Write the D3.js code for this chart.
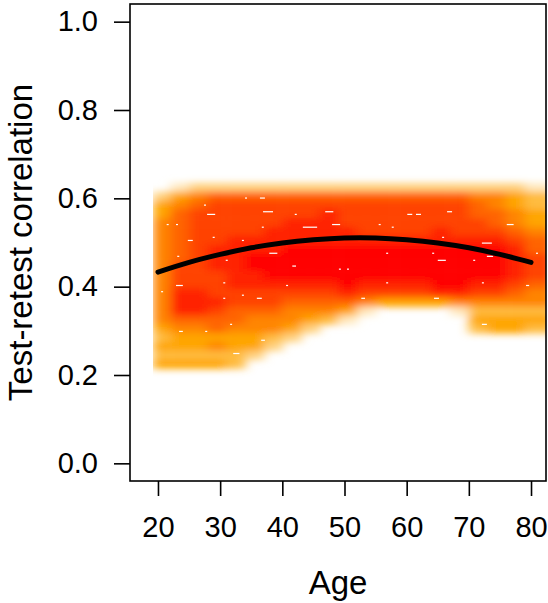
<!DOCTYPE html>
<html>
<head>
<meta charset="utf-8">
<script src="https://cdn.jsdelivr.net/npm/d3@7"></script>
<style>
  body { margin: 0; background: #fff; }
  svg { display: block; font-family: 'Liberation Sans', Arial, Helvetica, sans-serif; }
</style>
</head>
<body>
<div id="chart"></div>
<script>
// ===== TEST-RETEST CORRELATION BY AGE (smoothed density + quadratic fit) =====

// Age column edges of the density raster (years)
const ageEdges = [19.2, 22, 25, 28, 31, 34, 37, 40, 43, 46, 49, 52, 55, 58, 61, 64, 67, 70, 73, 76, 79, 83.5];

// Top edge of each density row (correlation), each row 0.02 tall
const rowTops = [0.635, 0.615, 0.595, 0.575, 0.555, 0.535, 0.515, 0.495, 0.475, 0.455,
                 0.435, 0.415, 0.395, 0.375, 0.355, 0.335, 0.315, 0.295, 0.275, 0.255, 0.235];
const rowHeight = 0.02;

// Density level per cell (0 = empty, 9 = densest)
const densityRows = [
  [0,1,2,2,2,2,2,2,2,2,2,2,2,2,2,2,2,2,2,2,1],
  [2,4,5,6,6,6,6,6,6,6,6,6,6,6,6,6,6,5,5,4,3],
  [4,5,6,7,7,7,7,7,7,7,7,7,7,7,7,7,7,6,5,4,3],
  [4,6,7,7,7,7,7,7,7,8,7,7,7,7,7,7,7,6,6,5,4],
  [5,6,7,7,7,7,7,8,8,8,7,7,7,7,7,7,7,7,6,5,4],
  [5,6,7,7,7,7,8,8,8,8,8,7,7,7,7,8,7,7,7,6,5],
  [5,6,7,7,8,8,8,8,8,8,8,8,8,8,8,8,8,8,8,7,6],
  [5,6,7,8,8,8,8,9,9,9,9,9,9,9,9,9,9,9,9,8,6],
  [5,6,7,8,8,9,9,9,9,9,9,9,9,9,9,9,9,9,9,8,7],
  [5,7,7,8,8,9,9,9,9,9,9,9,9,9,9,9,9,9,9,8,7],
  [5,7,7,7,8,8,9,9,9,9,9,9,9,9,9,9,9,9,9,8,7],
  [5,7,7,7,8,8,8,8,8,8,9,8,8,8,8,9,9,8,8,7,6],
  [5,8,8,7,7,7,7,7,7,7,8,7,7,7,7,8,8,7,7,6,5],
  [5,8,8,8,7,7,7,6,6,6,6,5,4,4,4,4,5,5,5,5,5],
  [5,8,8,7,6,6,6,5,5,5,4,1,0,0,0,0,1,3,3,3,3],
  [5,6,6,6,6,5,5,5,4,3,1,0,0,0,0,0,0,4,4,4,4],
  [4,5,5,6,5,5,5,4,2,0,0,0,0,0,0,0,0,3,4,4,3],
  [3,4,4,4,4,4,3,2,0,0,0,0,0,0,0,0,0,0,0,0,0],
  [4,4,4,5,4,4,2,0,0,0,0,0,0,0,0,0,0,0,0,0,0],
  [3,3,3,3,3,2,0,0,0,0,0,0,0,0,0,0,0,0,0,0,0],
  [4,4,4,4,3,0,0,0,0,0,0,0,0,0,0,0,0,0,0,0,0]
];

// Small white gaps left in the density image (age, correlation, length in years)
const speckAge  = [34.0, 36.4, 27.4, 36.9, 27.9, 42.0, 46.9, 60.1, 61.5, 66.5, 21.4, 22.9, 36.7, 43.3, 48.0,
                   55.5, 57.6, 76.1, 24.8, 28.8, 33.5, 65.7, 72.1, 23.1, 37.9, 56.7, 64.1, 72.9, 30.9, 65.0,
                   70.7, 41.6, 49.1, 50.4, 22.9, 30.5, 40.6, 56.7, 72.1, 79.2, 30.5, 35.9, 52.7, 64.4, 72.1,
                   31.6, 23.4, 36.6, 32.1, 27.6, 33.5, 80.8, 20.5];
const speckCorr = [0.602, 0.602, 0.586, 0.571, 0.565, 0.565, 0.571, 0.565, 0.565, 0.571, 0.542, 0.542, 0.536, 0.536, 0.542,
                   0.542, 0.536, 0.542, 0.506, 0.513, 0.506, 0.513, 0.500, 0.470, 0.477, 0.477, 0.477, 0.470, 0.461, 0.461,
                   0.461, 0.448, 0.441, 0.441, 0.404, 0.410, 0.404, 0.410, 0.410, 0.404, 0.375, 0.375, 0.375, 0.375, 0.316,
                   0.316, 0.300, 0.280, 0.250, 0.300, 0.382, 0.477, 0.390];
const speckLen  = [0.3, 0.8, 0.3, 1.6, 1.3, 0.3, 1.3, 0.8, 0.8, 0.8, 0.3, 0.3, 0.3, 2.3, 1.3,
                   0.3, 0.3, 1.1, 0.8, 0.3, 0.3, 0.3, 1.6, 0.3, 1.3, 0.3, 0.3, 1.0, 0.3, 1.3,
                   0.3, 0.6, 0.3, 0.3, 1.1, 0.3, 0.3, 0.3, 0.3, 0.5, 0.3, 0.8, 0.6, 0.8, 0.8,
                   0.3, 0.6, 0.6, 1.0, 0.3, 0.3, 0.3, 0.3];

// Fitted curve (quadratic in age)
const fitAges = [20, 25, 30, 35, 40, 45, 50, 55, 60, 65, 70, 75, 80];
const fitCorr = [0.433, 0.455, 0.473, 0.488, 0.499, 0.506, 0.510, 0.510, 0.506, 0.499, 0.488, 0.473, 0.455];

// Axis ticks
const xTicks = [20, 30, 40, 50, 60, 70, 80];
const yTicks = [0, 0.2, 0.4, 0.6, 0.8, 1.0];

const W = 548, H = 603;
const plot = { left: 130, right: 546, top: 4, bottom: 481 };

const svg = d3.select('#chart').append('svg')
  .attr('width', W)
  .attr('height', H);

const x = d3.scaleLinear().domain([15.5, 82.41]).range([plot.left, plot.right]);
const y = d3.scaleLinear().domain([-0.04, 1.04]).range([plot.bottom, plot.top]);

// white -> orange -> red ramp
const color = d3.scaleLinear()
  .domain([0, 4, 9])
  .range(['#ffffff', '#ffa500', '#ff0000']);

const defs = svg.append('defs');

defs.append('filter')
  .attr('id', 'smooth')
  .attr('filterUnits', 'userSpaceOnUse')
  .attr('x', 0).attr('y', 0).attr('width', W).attr('height', H)
  .append('feGaussianBlur')
  .attr('stdDeviation', '5.5 3.5');

// density starts sharply at the youngest age
defs.append('clipPath')
  .attr('id', 'density-clip')
  .append('rect')
  .attr('x', x(ageEdges[0]))
  .attr('y', plot.top)
  .attr('width', plot.right - x(ageEdges[0]))
  .attr('height', plot.bottom - plot.top);

// Flatten cells
const cells = [];
densityRows.forEach((row, r) => {
  row.forEach((v, c) => {
    if (v > 0) cells.push({ r, c, v });
  });
});

const densityLayer = svg.append('g')
  .attr('clip-path', 'url(#density-clip)');

densityLayer.append('g')
  .attr('filter', 'url(#smooth)')
  .selectAll('rect')
  .data(cells)
  .join('rect')
  .attr('x', d => x(ageEdges[d.c]))
  .attr('y', d => y(rowTops[d.r]))
  .attr('width', d => x(ageEdges[d.c + 1]) - x(ageEdges[d.c]) + 0.5)
  .attr('height', d => y(rowTops[d.r] - rowHeight) - y(rowTops[d.r]) + 0.5)
  .attr('fill', d => color(d.v));

// white specks
densityLayer.append('g')
  .selectAll('rect')
  .data(speckAge.map((a, i) => ({ a, c: speckCorr[i], len: speckLen[i] })))
  .join('rect')
  .attr('x', d => x(d.a))
  .attr('y', d => y(d.c))
  .attr('width', d => Math.max(2, x(d.a + d.len) - x(d.a)))
  .attr('height', 1.2)
  .attr('fill', '#fff');

// Fit line
const line = d3.line()
  .x(d => x(d[0]))
  .y(d => y(d[1]))
  .curve(d3.curveNatural);

svg.append('path')
  .datum(fitAges.map((a, i) => [a, fitCorr[i]]))
  .attr('d', line)
  .attr('fill', 'none')
  .attr('stroke', '#000')
  .attr('stroke-width', 5)
  .attr('stroke-linecap', 'round');

// Axes
const yAxis = d3.axisLeft(y)
  .tickValues(yTicks)
  .tickFormat(d3.format('.1f'))
  .tickSize(16)
  .tickPadding(16);

const gy = svg.append('g')
  .attr('transform', `translate(${plot.left},0)`)
  .call(yAxis);

const xAxis = d3.axisBottom(x)
  .tickValues(xTicks)
  .tickFormat(d3.format('d'))
  .tickSize(15)
  .tickPadding(20);

const gx = svg.append('g')
  .attr('transform', `translate(0,${plot.bottom})`)
  .call(xAxis);

[gx, gy].forEach(g => {
  g.select('.domain').remove();
  g.selectAll('line').attr('stroke', '#000').attr('stroke-width', 1.6);
  g.selectAll('text')
    .attr('fill', '#000')
    .style('font-size', '29px')
    .style('font-family', "'Liberation Sans', Arial, sans-serif");
});

// Frame
svg.append('rect')
  .attr('x', plot.left)
  .attr('y', plot.top)
  .attr('width', plot.right - plot.left)
  .attr('height', plot.bottom - plot.top)
  .attr('fill', 'none')
  .attr('stroke', '#000')
  .attr('stroke-width', 1.6);

// Axis titles
svg.append('text')
  .attr('x', (plot.left + plot.right) / 2)
  .attr('y', 594)
  .attr('text-anchor', 'middle')
  .attr('font-size', '33px')
  .attr('fill', '#000')
  .text('Age');

svg.append('text')
  .attr('transform', `translate(32,${(plot.top + plot.bottom) / 2}) rotate(-90)`)
  .attr('text-anchor', 'middle')
  .attr('font-size', '33px')
  .attr('fill', '#000')
  .text('Test-retest correlation');
</script>
</body>
</html>
